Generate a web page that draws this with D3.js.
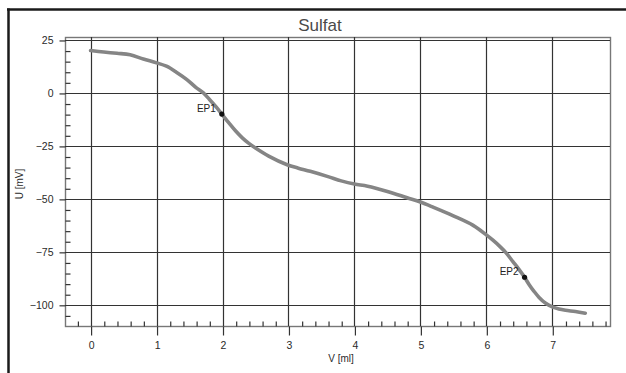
<!DOCTYPE html>
<html>
<head>
<meta charset="utf-8">
<script src="https://cdn.jsdelivr.net/npm/d3@7"></script>
<style>
  html, body { margin: 0; padding: 0; background: #fff; }
  svg { display: block; font-family: "Liberation Sans", Arial, sans-serif; }
</style>
</head>
<body>
<svg id="chart" width="626" height="373"></svg>
<script>
// Titration curve: volume of titrant (ml) vs. electrode potential (mV)
const volume = [0, 0.2, 0.4, 0.6, 0.8, 1.0, 1.15, 1.3, 1.46, 1.6, 1.71, 1.8, 1.9, 1.99,
  2.1, 2.2, 2.3, 2.4, 2.5, 2.7, 2.98, 3.15, 3.33, 3.6, 3.8, 4.0, 4.2, 4.5, 4.8, 5.0,
  5.2, 5.5, 5.8, 6.0, 6.1, 6.2, 6.3, 6.4, 6.5, 6.58, 6.65, 6.72, 6.8, 6.9, 7.0, 7.1, 7.2, 7.35, 7.5];
const potential = [20, 19.3, 18.7, 18, 16, 14.2, 12.6, 9.8, 6.3, 2.5, 0, -3, -6.5, -10,
  -14.3, -18, -21.2, -23.8, -26, -29.8, -33.9, -35.5, -37, -39.5, -41.5, -43, -44, -46.5, -49.5, -51.5,
  -54, -58, -62.5, -67, -69.5, -72.3, -75.5, -79.5, -83.5, -87, -90.5, -93.5, -96.5, -99.3, -101, -102, -102.6, -103.2, -104];

// Equivalence points
const epNames = ["EP1", "EP2"];
const epVolume = [1.99, 6.58];
const epPotential = [-10, -87];

const xTicks = [0, 1, 2, 3, 4, 5, 6, 7];
const yTicks = [25, 0, -25, -50, -75, -100];
const xMinor = d3.range(-0.2, 7.81, 0.2).map(v => +v.toFixed(1)).filter(v => !xTicks.includes(v));
const yMinor = d3.range(-105, 26, 5).filter(v => !yTicks.includes(v));

const svg = d3.select("#chart");
svg.append("rect").attr("width", 626).attr("height", 373).attr("fill", "#fff");

const plotLeft = 65, plotRight = 610, plotTop = 37, plotBottom = 326;
const x = d3.scaleLinear().domain([-0.388, 7.875]).range([plotLeft, plotRight]);
const y = d3.scaleLinear().domain([-110, 26.4]).range([plotBottom, plotTop]);

// Outer frame (top and left edges)
svg.append("line").attr("x1", 7).attr("x2", 626).attr("y1", 9.5).attr("y2", 9.5)
  .attr("stroke", "#1a1a1a").attr("stroke-width", 2.5);
svg.append("line").attr("x1", 8.5).attr("x2", 8.5).attr("y1", 8.5).attr("y2", 373)
  .attr("stroke", "#1a1a1a").attr("stroke-width", 2.5);

// Title
svg.append("text").attr("x", 320).attr("y", 31).attr("text-anchor", "middle")
  .attr("font-size", 17).attr("fill", "#4a4a4a").text("Sulfat");

// Plot border
svg.append("rect").attr("x", plotLeft + 0.5).attr("y", plotTop + 0.5)
  .attr("width", plotRight - plotLeft).attr("height", plotBottom - plotTop)
  .attr("fill", "none").attr("stroke", "#777").attr("stroke-width", 1.4);

// Grid lines
const gridColor = "#333";
svg.append("g").selectAll("line").data(xTicks).join("line")
  .attr("x1", d => Math.round(x(d)) + 0.5).attr("x2", d => Math.round(x(d)) + 0.5)
  .attr("y1", plotTop).attr("y2", plotBottom)
  .attr("stroke", gridColor).attr("stroke-width", 1.2);
svg.append("g").selectAll("line").data(yTicks).join("line")
  .attr("y1", d => Math.round(y(d)) + 0.5).attr("y2", d => Math.round(y(d)) + 0.5)
  .attr("x1", plotLeft).attr("x2", plotRight)
  .attr("stroke", gridColor).attr("stroke-width", 1.2);

// Axes: major ticks outside, minor ticks inside
const xAxis = svg.append("g").attr("transform", `translate(0.5,${plotBottom + 0.5})`)
  .call(d3.axisBottom(x).tickValues(xTicks).tickSize(9).tickPadding(6).tickFormat(d3.format("d")));
const xMinorAxis = svg.append("g").attr("transform", `translate(0.5,${plotBottom + 0.5})`)
  .call(d3.axisTop(x).tickValues(xMinor).tickSize(5).tickFormat(""));
const yAxis = svg.append("g").attr("transform", `translate(${plotLeft + 0.5},0.5)`)
  .call(d3.axisLeft(y).tickValues(yTicks).tickSize(6).tickPadding(6).tickFormat(d3.format("d")));
const yMinorAxis = svg.append("g").attr("transform", `translate(${plotLeft + 0.5},0.5)`)
  .call(d3.axisRight(y).tickValues(yMinor).tickSize(5).tickFormat(""));

[xAxis, xMinorAxis, yAxis, yMinorAxis].forEach(g => {
  g.select(".domain").remove();
  g.selectAll(".tick line").attr("stroke", "#333").attr("stroke-width", 1.2);
  g.selectAll(".tick text").attr("fill", "#2a2a2a").attr("font-size", 10.5)
    .attr("font-family", "'Liberation Sans', Arial, sans-serif");
});

// Axis titles
svg.append("text").attr("x", 341).attr("y", 362).attr("text-anchor", "middle")
  .attr("font-size", 10).attr("fill", "#2a2a2a").text("V [ml]");
svg.append("text").attr("transform", "translate(23,184) rotate(-90)").attr("text-anchor", "middle")
  .attr("font-size", 10).attr("fill", "#2a2a2a").text("U [mV]");

// Curve
const defs = svg.append("defs");
defs.append("filter").attr("id", "soft").append("feGaussianBlur").attr("stdDeviation", 0.6);
const line = d3.line().x((d, i) => x(volume[i])).y(d => y(d)).curve(d3.curveCatmullRom.alpha(0.5));
svg.append("path").datum(potential).attr("d", line)
  .attr("fill", "none").attr("stroke", "#858585").attr("stroke-width", 3.6)
  .attr("stroke-linejoin", "round").attr("stroke-linecap", "round")
  .attr("filter", "url(#soft)");

// Equivalence point markers
const ep = svg.append("g").selectAll("g").data(epNames).join("g");
ep.append("circle").attr("cx", (d, i) => x(epVolume[i])).attr("cy", (d, i) => y(epPotential[i]))
  .attr("r", 2.6).attr("fill", "#111");
ep.append("text").attr("x", (d, i) => x(epVolume[i]) - 6).attr("y", (d, i) => y(epPotential[i]) - 2)
  .attr("text-anchor", "end").attr("font-size", 10).attr("fill", "#222").text(d => d);
</script>
</body>
</html>
